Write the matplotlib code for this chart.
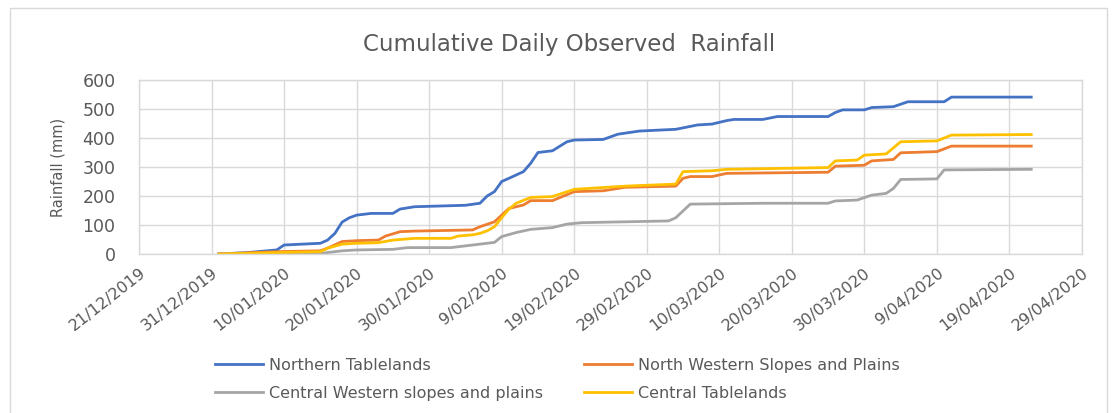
import numpy as np
import pandas as pd
import matplotlib
matplotlib.use("Agg")
import matplotlib.pyplot as plt
from matplotlib.patches import Rectangle

# cumulative rainfall, (date, mm) at the corners of each line
NT_DATES = ["2020-01-01", "2020-01-05", "2020-01-09", "2020-01-10", "2020-01-15", "2020-01-16",
            "2020-01-17", "2020-01-18", "2020-01-19", "2020-01-20", "2020-01-22", "2020-01-25",
            "2020-01-26", "2020-01-28", "2020-02-04", "2020-02-06", "2020-02-07", "2020-02-08",
            "2020-02-09", "2020-02-10", "2020-02-12", "2020-02-13", "2020-02-14", "2020-02-16",
            "2020-02-18", "2020-02-19", "2020-02-23", "2020-02-25", "2020-02-28", "2020-03-04",
            "2020-03-07", "2020-03-09", "2020-03-11", "2020-03-12", "2020-03-16", "2020-03-18",
            "2020-03-25", "2020-03-26", "2020-03-27", "2020-03-30", "2020-03-31", "2020-04-03",
            "2020-04-05", "2020-04-10", "2020-04-11", "2020-04-22"]
NT_VALS = [0, 5, 14, 31, 37, 48, 71, 110, 125, 134, 140, 140, 155, 163, 168, 175, 200, 215,
           250, 261, 284, 313, 350, 356, 387, 393, 395, 413, 424, 430, 445, 448, 460, 464,
           464, 474, 474, 488, 497, 497, 505, 508, 525, 525, 541, 541]

NWSP_DATES = ["2020-01-01", "2020-01-09", "2020-01-15", "2020-01-16", "2020-01-18", "2020-01-20",
              "2020-01-23", "2020-01-24", "2020-01-26", "2020-01-28", "2020-02-05", "2020-02-06",
              "2020-02-08", "2020-02-09", "2020-02-10", "2020-02-12", "2020-02-13", "2020-02-16",
              "2020-02-19", "2020-02-23", "2020-02-26", "2020-03-04", "2020-03-05", "2020-03-06",
              "2020-03-09", "2020-03-11", "2020-03-25", "2020-03-26", "2020-03-30", "2020-03-31",
              "2020-04-03", "2020-04-04", "2020-04-09", "2020-04-11", "2020-04-22"]
NWSP_VALS = [0, 8, 11, 20, 43, 46, 48, 62, 77, 79, 83, 94, 111, 134, 157, 169, 184, 184,
             215, 218, 230, 234, 261, 267, 267, 278, 282, 303, 306, 321, 326, 349, 353, 372, 372]

CWSP_DATES = ["2020-01-01", "2020-01-15", "2020-01-16", "2020-01-18", "2020-01-20", "2020-01-25",
              "2020-01-27", "2020-02-02", "2020-02-05", "2020-02-07", "2020-02-08", "2020-02-09",
              "2020-02-11", "2020-02-13", "2020-02-16", "2020-02-18", "2020-02-20", "2020-02-26",
              "2020-03-03", "2020-03-04", "2020-03-06", "2020-03-16", "2020-03-25", "2020-03-26",
              "2020-03-29", "2020-03-31", "2020-04-02", "2020-04-03", "2020-04-04", "2020-04-09",
              "2020-04-10", "2020-04-22"]
CWSP_VALS = [0, 2, 5, 11, 14, 16, 22, 22, 31, 37, 40, 60, 74, 85, 91, 103, 108, 111, 114,
             125, 172, 175, 175, 183, 186, 203, 209, 226, 257, 259, 290, 292]

CT_DATES = ["2020-01-01", "2020-01-09", "2020-01-15", "2020-01-16", "2020-01-18", "2020-01-20",
            "2020-01-23", "2020-01-25", "2020-01-28", "2020-02-02", "2020-02-03", "2020-02-05",
            "2020-02-06", "2020-02-07", "2020-02-08", "2020-02-09", "2020-02-10", "2020-02-11",
            "2020-02-13", "2020-02-16", "2020-02-19", "2020-02-26", "2020-03-04", "2020-03-05",
            "2020-03-09", "2020-03-11", "2020-03-25", "2020-03-26", "2020-03-29", "2020-03-30",
            "2020-04-02", "2020-04-04", "2020-04-09", "2020-04-11", "2020-04-22"]
CT_VALS = [0, 5, 8, 20, 34, 37, 39, 48, 54, 54, 62, 66, 71, 80, 94, 125, 155, 175, 195,
           198, 223, 234, 241, 284, 287, 292, 298, 321, 324, 341, 345, 387, 390, 410, 412]

SERIES = [
    ("Northern Tablelands", NT_DATES, NT_VALS, "#4472C4"),
    ("North Western Slopes and Plains", NWSP_DATES, NWSP_VALS, "#ED7D31"),
    ("Central Western slopes and plains", CWSP_DATES, CWSP_VALS, "#A5A5A5"),
    ("Central Tablelands", CT_DATES, CT_VALS, "#FFC000"),
]

TICK_DATES = pd.date_range("2019-12-21", "2020-04-29", freq="10D")
Y_TICKS = [0, 100, 200, 300, 400, 500, 600]

TXT = "#595959"
GRID = "#D9D9D9"
W, H = 1117, 413

fig = plt.figure(figsize=(W / 100, H / 100), dpi=100)
ax = fig.add_axes([139 / W, 1 - 254 / H, (1082 - 139) / W, (254 - 80) / H])

# outer chart frame
fig.patches.append(Rectangle((10 / W, -0.05), 1097 / W, 1.05 - 8 / H,
                             transform=fig.transFigure, fill=False,
                             edgecolor=GRID, linewidth=1.0))

handles = []
for name, dates, vals, color in SERIES:
    h, = ax.plot(pd.to_datetime(dates), vals, color=color, linewidth=2.0,
                 solid_joinstyle="round", label=name)
    handles.append(h)

ax.set_xlim(TICK_DATES[0], TICK_DATES[-1])
ax.set_ylim(0, 600)
ax.set_xticks(TICK_DATES)
ax.set_xticklabels([f"{d.day}/{d.month:02d}/{d.year}" for d in TICK_DATES],
                   rotation=38, ha="right", va="top", rotation_mode="anchor",
                   fontsize=11.5, color=TXT)
ax.set_yticks(Y_TICKS)
ax.set_yticklabels([str(v) for v in Y_TICKS], fontsize=12.5, color=TXT)
ax.tick_params(axis="y", length=0, pad=17)
ax.tick_params(axis="x", length=0, pad=8)
ax.grid(True, color=GRID, linewidth=1.0)
ax.set_axisbelow(True)
for sp in ax.spines.values():
    sp.set_color(GRID)
    sp.set_linewidth(1.0)

ax.set_ylabel("Rainfall (mm)", fontsize=10.5, color=TXT, va="center")
ax.yaxis.set_label_coords((58 - 139) / (1082 - 139), 0.5)

fig.text(569 / W, 1 - 45 / H, "Cumulative Daily Observed  Rainfall", ha="center",
         va="center", fontsize=16.5, color=TXT)

order = [0, 2, 1, 3]
leg = fig.legend([handles[i] for i in order], [SERIES[i][0] for i in order],
                 loc="upper left", bbox_to_anchor=(215 / W, 1 - 358 / H), ncol=2,
                 frameon=False, fontsize=11.5, handlelength=3.0, columnspacing=2.6,
                 handletextpad=0.35, labelspacing=0.8, borderpad=0, borderaxespad=0)
for t in leg.get_texts():
    t.set_color(TXT)

fig.savefig("out.png", dpi=100)
